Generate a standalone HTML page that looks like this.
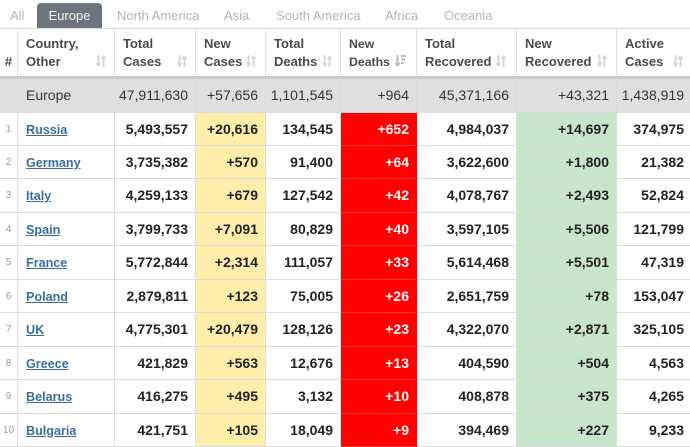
<!DOCTYPE html>
<html><head><meta charset="utf-8">
<style>
*{margin:0;padding:0;box-sizing:border-box}
html,body{width:690px;height:446px;overflow:hidden;background:#fff;font-family:"Liberation Sans",Arial,sans-serif}
.tab{position:absolute;top:8px;font-size:13px;color:#b4b4b4;line-height:16px}
.tabA{position:absolute;left:37px;top:3px;width:65px;height:25px;background:#6c757e;border-radius:4px 4px 0 0;color:#f4f4f4;font-size:13px;line-height:26px;text-align:center}
.hline{position:absolute;left:0;width:690px;height:1px;background:#dcdcdc}
.row{position:absolute;left:0;width:690px}
.c{position:absolute;top:0;bottom:0;border-right:1px solid #dcdcdc;border-bottom:1px solid #dcdcdc;text-align:right;padding-right:7px;white-space:nowrap;overflow:hidden}
.c0{left:0;width:18px;text-align:center;padding:0;border-left:none}
.c1{left:18px;width:97px;text-align:left;padding-left:8px}
.c2{left:115px;width:81px}
.c3{left:196px;width:70px}
.c4{left:266px;width:75px}
.c5{left:341px;width:76px}
.c6{left:417px;width:100px}
.c7{left:517px;width:100px}
.c8{left:617px;width:74px;border-right:none}
.hdr .c{text-align:left;padding-left:8px;padding-top:6px;font-size:13px;font-weight:bold;color:#4a4a4a;line-height:18px;border-bottom:none}
.hdr .c5{font-size:12.3px}
.hdr .c0{padding-left:0;text-align:center;padding-top:24px}
.ico{position:absolute;bottom:9px}
.eu .c{background:#e0e0e0;font-size:14px;color:#333;line-height:33px}
.eu .c1{padding-left:8px}
.d .c{font-size:14px;font-weight:bold;color:#222;line-height:33px}
.d .c0{font-size:10px;font-weight:normal;color:#999}
.d .c1 a{color:#3b6d98;text-decoration:underline;font-size:12.6px;font-weight:bold}
.d .c3{background:#ffeeaa}
.d .c5{background:#ff0000;color:#fff;border-right:1px solid #ff0000;border-bottom:1px solid #ff3030}
.d .c7{background:#c8e6c9}
</style></head><body>

<div class="tab" style="left:10px">All</div>
<div class="tabA">Europe</div>
<div class="tab" style="left:117px">North America</div>
<div class="tab" style="left:224px">Asia</div>
<div class="tab" style="left:276px">South America</div>
<div class="tab" style="left:385px">Africa</div>
<div class="tab" style="left:444px">Oceania</div>

<div class="hline" style="top:28px"></div>

<div class="row hdr" style="top:29px;height:47px">
  <div class="c c0">#</div>
  <div class="c c1">Country,<br>Other<svg class="ico" style="right:8px" width="10" height="12" viewBox="0 0 10 12"><g stroke="#d8d8d8" stroke-width="2" fill="none"><path d="M2.5 0V10M0.5 8L2.5 10.5L4.5 8"/><path d="M7.5 12V2M5.5 4L7.5 1.5L9.5 4"/></g></svg></div>
  <div class="c c2">Total<br>Cases<svg class="ico" style="right:8px" width="10" height="12" viewBox="0 0 10 12"><g stroke="#d8d8d8" stroke-width="2" fill="none"><path d="M2.5 0V10M0.5 8L2.5 10.5L4.5 8"/><path d="M7.5 12V2M5.5 4L7.5 1.5L9.5 4"/></g></svg></div>
  <div class="c c3">New<br>Cases<svg class="ico" style="right:9px" width="10" height="12" viewBox="0 0 10 12"><g stroke="#d8d8d8" stroke-width="2" fill="none"><path d="M2.5 0V10M0.5 8L2.5 10.5L4.5 8"/><path d="M7.5 12V2M5.5 4L7.5 1.5L9.5 4"/></g></svg></div>
  <div class="c c4">Total<br>Deaths<svg class="ico" style="right:8px" width="10" height="12" viewBox="0 0 10 12"><g stroke="#d8d8d8" stroke-width="2" fill="none"><path d="M2.5 0V10M0.5 8L2.5 10.5L4.5 8"/><path d="M7.5 12V2M5.5 4L7.5 1.5L9.5 4"/></g></svg></div>
  <div class="c c5">New<br>Deaths<svg class="ico" style="right:10px" width="11" height="12" viewBox="0 0 11 12"><g stroke="#b8b8b8" stroke-width="2" fill="none"><path d="M2.5 0V10M0.5 8L2.5 10.5L4.5 8"/><path d="M6 1H11M6 4.5H10M6 8H9"/></g></svg></div>
  <div class="c c6">Total<br>Recovered<svg class="ico" style="right:10px" width="10" height="12" viewBox="0 0 10 12"><g stroke="#d8d8d8" stroke-width="2" fill="none"><path d="M2.5 0V10M0.5 8L2.5 10.5L4.5 8"/><path d="M7.5 12V2M5.5 4L7.5 1.5L9.5 4"/></g></svg></div>
  <div class="c c7">New<br>Recovered<svg class="ico" style="right:9px" width="10" height="12" viewBox="0 0 10 12"><g stroke="#d8d8d8" stroke-width="2" fill="none"><path d="M2.5 0V10M0.5 8L2.5 10.5L4.5 8"/><path d="M7.5 12V2M5.5 4L7.5 1.5L9.5 4"/></g></svg></div>
  <div class="c c8">Active<br>Cases<svg class="ico" style="right:8px" width="10" height="12" viewBox="0 0 10 12"><g stroke="#d8d8d8" stroke-width="2" fill="none"><path d="M2.5 0V10M0.5 8L2.5 10.5L4.5 8"/><path d="M7.5 12V2M5.5 4L7.5 1.5L9.5 4"/></g></svg></div>
</div>
<div style="position:absolute;left:0;top:76px;width:690px;height:3px;background:#cdcdcd"></div>

<div class="row eu" style="top:79px;height:33.5px">
  <div class="c c0"></div><div class="c c1">Europe</div><div class="c c2">47,911,630</div><div class="c c3">+57,656</div><div class="c c4">1,101,545</div><div class="c c5">+964</div><div class="c c6">45,371,166</div><div class="c c7">+43,321</div><div class="c c8">1,438,919</div>
</div>

<div class="row d" style="top:112.5px;height:33.45px"><div class="c c0">1</div><div class="c c1"><a>Russia</a></div><div class="c c2">5,493,557</div><div class="c c3">+20,616</div><div class="c c4">134,545</div><div class="c c5">+652</div><div class="c c6">4,984,037</div><div class="c c7">+14,697</div><div class="c c8">374,975</div></div>
<div class="row d" style="top:145.95px;height:33.45px"><div class="c c0">2</div><div class="c c1"><a>Germany</a></div><div class="c c2">3,735,382</div><div class="c c3">+570</div><div class="c c4">91,400</div><div class="c c5">+64</div><div class="c c6">3,622,600</div><div class="c c7">+1,800</div><div class="c c8">21,382</div></div>
<div class="row d" style="top:179.4px;height:33.45px"><div class="c c0">3</div><div class="c c1"><a>Italy</a></div><div class="c c2">4,259,133</div><div class="c c3">+679</div><div class="c c4">127,542</div><div class="c c5">+42</div><div class="c c6">4,078,767</div><div class="c c7">+2,493</div><div class="c c8">52,824</div></div>
<div class="row d" style="top:212.85px;height:33.45px"><div class="c c0">4</div><div class="c c1"><a>Spain</a></div><div class="c c2">3,799,733</div><div class="c c3">+7,091</div><div class="c c4">80,829</div><div class="c c5">+40</div><div class="c c6">3,597,105</div><div class="c c7">+5,506</div><div class="c c8">121,799</div></div>
<div class="row d" style="top:246.3px;height:33.45px"><div class="c c0">5</div><div class="c c1"><a>France</a></div><div class="c c2">5,772,844</div><div class="c c3">+2,314</div><div class="c c4">111,057</div><div class="c c5">+33</div><div class="c c6">5,614,468</div><div class="c c7">+5,501</div><div class="c c8">47,319</div></div>
<div class="row d" style="top:279.75px;height:33.45px"><div class="c c0">6</div><div class="c c1"><a>Poland</a></div><div class="c c2">2,879,811</div><div class="c c3">+123</div><div class="c c4">75,005</div><div class="c c5">+26</div><div class="c c6">2,651,759</div><div class="c c7">+78</div><div class="c c8">153,047</div></div>
<div class="row d" style="top:313.2px;height:33.45px"><div class="c c0">7</div><div class="c c1"><a>UK</a></div><div class="c c2">4,775,301</div><div class="c c3">+20,479</div><div class="c c4">128,126</div><div class="c c5">+23</div><div class="c c6">4,322,070</div><div class="c c7">+2,871</div><div class="c c8">325,105</div></div>
<div class="row d" style="top:346.65px;height:33.45px"><div class="c c0">8</div><div class="c c1"><a>Greece</a></div><div class="c c2">421,829</div><div class="c c3">+563</div><div class="c c4">12,676</div><div class="c c5">+13</div><div class="c c6">404,590</div><div class="c c7">+504</div><div class="c c8">4,563</div></div>
<div class="row d" style="top:380.1px;height:33.45px"><div class="c c0">9</div><div class="c c1"><a>Belarus</a></div><div class="c c2">416,275</div><div class="c c3">+495</div><div class="c c4">3,132</div><div class="c c5">+10</div><div class="c c6">408,878</div><div class="c c7">+375</div><div class="c c8">4,265</div></div>
<div class="row d" style="top:413.55px;height:33.45px"><div class="c c0">10</div><div class="c c1"><a>Bulgaria</a></div><div class="c c2">421,751</div><div class="c c3">+105</div><div class="c c4">18,049</div><div class="c c5">+9</div><div class="c c6">394,469</div><div class="c c7">+227</div><div class="c c8">9,233</div></div>

</body></html>
